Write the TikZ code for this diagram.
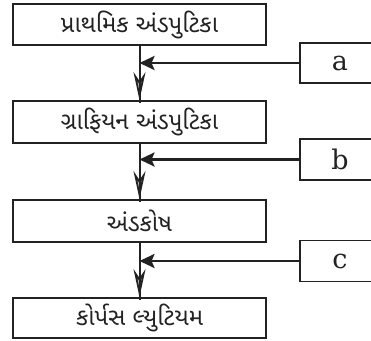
\documentclass[tikz,border=0pt]{standalone}
\usepackage{fontspec}
\newfontfamily\gujfont[Script=Gujarati]{Noto Sans Gujarati UI}
\newfontfamily\letterfont{DejaVu Serif}
\usetikzlibrary{arrows.meta}
\definecolor{ink}{HTML}{222222}
\begin{document}
\begin{tikzpicture}[x=1pt,y=-1pt,
  mainbox/.style={draw=ink,line width=1.8pt,minimum width=253pt,inner sep=0pt,font=\gujfont\fontsize{24}{24}\selectfont,text=ink},
  sidebox/.style={draw=ink,line width=1.8pt,minimum width=80pt,inner sep=0pt,font=\letterfont\fontsize{27}{27}\selectfont,text=ink},
  flow/.style={draw=ink,line width=2pt},
  downarrow/.style={draw=ink,line width=1.8pt,-{Stealth[length=28pt,width=12pt,inset=9pt,fill=gray!55]}},
  sidearrow/.style={draw=ink,line width=2.6pt,-{Stealth[length=15pt,width=14pt,inset=3pt]}}]
\useasboundingbox (0,0) rectangle (371,340);
\clip (0,0) rectangle (371,340);
\node[mainbox,minimum height=41pt] (b1) at (139.5,24.5) {પ્રાથમિક અંડપુટિકા};
\node[mainbox,minimum height=42pt] (b2) at (139.5,122) {ગ્રાફિયન અંડપુટિકા};
\node[mainbox,minimum height=42pt] (b3) at (139.5,221) {અંડકોષ};
\node[mainbox,minimum height=40pt] (b4) at (139.5,318) {કોર્પસ લ્યુટિયમ};
\node[sidebox,minimum height=40pt] (a) at (340,63) {a};
\node[sidebox,minimum height=41pt] (b) at (340,159.5) {b};
\node[sidebox,minimum height=41pt] (c) at (340,261) {c};
\foreach \u/\v/\s in {b1/b2/a,b2/b3/b,b3/b4/c}{
  \draw[downarrow] (\u.south) -- (\v.north);
  \draw[flow] (\u.south) -- ([yshift=-3pt]\v.north);
  \draw[sidearrow] (\s.west) -- (\s.west -| \u.south);
}
\end{tikzpicture}
\end{document}
